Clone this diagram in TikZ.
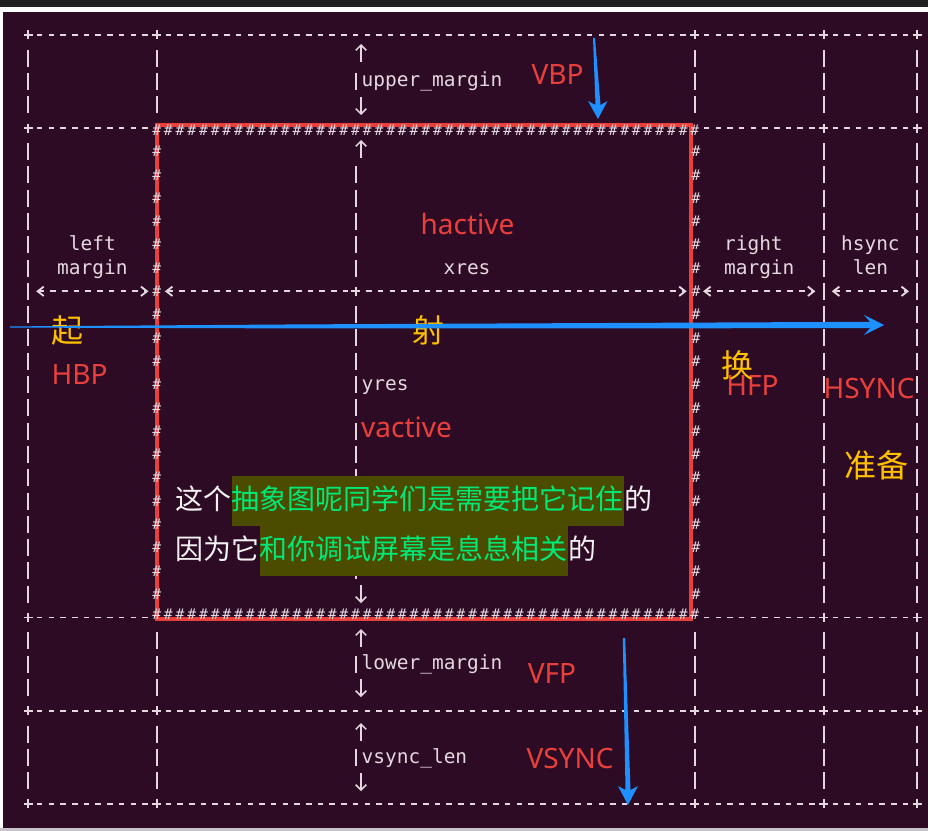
\documentclass[tikz,border=0pt]{standalone}
\usepackage{fontspec}
\setmainfont{Noto Sans}
\newfontfamily\asciifont{DejaVu Sans Mono}
\newfontfamily\cjkfont{Noto Sans CJK SC}
\usetikzlibrary{arrows.meta,positioning,calc}

\definecolor{termbg}{RGB}{46,11,36}
\definecolor{topbar}{RGB}{32,32,32}
\definecolor{edgegray}{RGB}{200,195,200}
\definecolor{asciiw}{RGB}{228,216,224}
\definecolor{markred}{RGB}{234,64,60}
\definecolor{shotblue}{RGB}{30,144,255}
\definecolor{noteyellow}{RGB}{255,192,0}
\definecolor{notewhite}{RGB}{242,242,242}
\definecolor{hlgreen}{RGB}{0,232,120}
\definecolor{hlolive}{RGB}{76,76,0}

\begin{document}
\begin{tikzpicture}[x=0.75pt,y=-0.75pt,
    grid/.style={draw=asciiw,line width=1.4pt},
    hbar/.style={grid,dash pattern=on 4.1pt off 4.675pt},
    vbar/.style={grid,dash pattern=on 12.75pt off 4.725pt},
    harrow/.style={hbar,{Straight Barb[length=4.5pt,width=7pt]}-{Straight Barb[length=4.5pt,width=7pt]}},
    hashmark/.style={text=asciiw,font=\asciifont\fontsize{11}{11}\selectfont,inner sep=0pt},
    asciitxt/.style={text=asciiw,font=\asciifont\fontsize{14.6}{16}\selectfont,inner sep=0pt},
    redlbl/.style={text=markred,font=\fontsize{21}{24}\selectfont,inner sep=0pt,anchor=base},
    yellowlbl/.style={text=noteyellow,font=\cjkfont\fontsize{24}{26}\selectfont,inner sep=0pt},
    noteline/.style={text=notewhite,font=\cjkfont\fontsize{21}{24}\selectfont,inner xsep=0pt,
      inner ysep=0pt,text height=17pt,text depth=4pt,minimum height=37.5pt},
    notehl/.style={noteline,fill=hlolive,text=hlgreen},
    shot/.style={fill=shotblue},
    crossmark/.pic={\draw[grid] (-4.5,0) -- (4.5,0) (0,-4.5) -- (0,4.5);},
    uptick/.pic={\draw[grid,line width=1.1pt,-{Straight Barb[length=4pt,width=8pt]}] (0,9) -- (0,-9);},
    downtick/.pic={\draw[grid,line width=1.1pt,-{Straight Barb[length=4pt,width=8pt]}] (0,-9) -- (0,9);}
  ]

  \useasboundingbox (0,0) rectangle (928,831);
  % screen
  \fill[white] (0,0) rectangle (928,831);
  \fill[topbar] (0,0) rectangle (928,7);
  \fill[termbg] (3,12) rectangle (928,828);
  \fill[edgegray] (0,828) rectangle (928,831);

  % ascii frame: one column = 11.7, one row = 23.3
  \foreach \r in {0,29,33}
    \draw[hbar] (36.95,{35+23.3*\r}) -- (908.25,{35+23.3*\r});
  \foreach \r in {4,25} {
    \draw[hbar] (36.95,{35+23.3*\r}) -- (147.75,{35+23.3*\r});
    \draw[hbar] (703.85,{35+23.3*\r}) -- (908.25,{35+23.3*\r});
  }
  \foreach \c/\ra/\rb in {0/1/3,0/5/24,0/26/28,0/30/32,
      11/1/3,11/26/28,11/30/32,
      28/2/2,28/6/10,28/12/23,28/27/27,28/31/31,
      57/1/3,57/26/28,57/30/32,
      68/1/3,68/5/24,68/26/28,68/30/32,
      76/1/3,76/5/24,76/26/28,76/30/32}
    \draw[vbar] ({28+11.7*\c},{35+23.3*\ra-8.5}) -- ({28+11.7*\c},{35+23.3*\rb+8.5});
  \foreach \c/\r in {0/0,11/0,57/0,68/0,76/0,0/4,68/4,76/4,0/25,68/25,76/25,
      0/29,11/29,57/29,68/29,76/29,0/33,11/33,57/33,68/33,76/33,28/11}
    \pic at ({28+11.7*\c},{35+23.3*\r}) {crossmark};

  % length arrows
  \coordinate (lm-l) at (36.2,291.3);
  \coordinate (lm-r) at (148.5,291.3);
  \coordinate (xr-l) at (164.9,291.3);
  \coordinate (xr-r) at (686.7,291.3);
  \coordinate (rm-l) at (703.1,291.3);
  \coordinate (rm-r) at (815.4,291.3);
  \coordinate (hs-l) at (831.8,291.3);
  \coordinate (hs-r) at (909,291.3);
  \draw[harrow] (lm-l) -- (lm-r);
  \draw[harrow] (xr-l) -- (xr-r);
  \draw[harrow] (rm-l) -- (rm-r);
  \draw[harrow] (hs-l) -- (hs-r);
  \pic at (355.6,291.3) {crossmark};

  % up and down ticks of the middle column
  \foreach \yu/\yd in {53/106,149/594,638/688,732/782} {
    \pic at (361,\yu) {uptick};
    \pic at (361,\yd) {downtick};
  }

  % visible area
  \draw[markred,line width=3pt] (157,125) rectangle (691,619);
  \foreach \c in {11,...,57} {
    \node[hashmark] (hash-top-\c) at ({28+11.7*\c},130) {\#};
    \node[hashmark] (hash-bot-\c) at ({28+11.7*\c},614) {\#};
  }
  \foreach \r in {5,...,24} {
    \node[hashmark] (hash-l-\r) at (156.7,{35+23.3*\r}) {\#};
    \node[hashmark] (hash-r-\r) at (696,{35+23.3*\r}) {\#};
  }

  % ascii texts
  \node[asciitxt,anchor=base west] (upper) at (361.45,87) {upper\_margin};
  \node[asciitxt,anchor=base] (left1) at (92.35,250.5) {left};
  \node[asciitxt,anchor=base] (left2) at (92.35,274) {margin};
  \node[asciitxt,anchor=base] (xres) at (467,274) {xres};
  \node[asciitxt,anchor=base] (right1) at (753.4,250.5) {right};
  \node[asciitxt,anchor=base] (right2) at (759.25,274) {margin};
  \node[asciitxt,anchor=base] (hsync1) at (870.4,250.5) {hsync};
  \node[asciitxt,anchor=base] (hsync2) at (870.4,274) {len};
  \node[asciitxt,anchor=base west] (yres) at (361.45,390) {yres};
  \node[asciitxt,anchor=base west] (lower) at (361.45,669.5) {lower\_margin};
  \node[asciitxt,anchor=base west] (vsync) at (361.45,763) {vsync\_len};

  % red notes
  \node[redlbl] (vbp) at (557.5,85) {VBP};
  \node[redlbl] (hactive) at (467.5,234) {hactive};
  \node[redlbl] (hbp) at (79.5,384) {HBP};
  \node[redlbl] (vactive) at (406.5,437) {vactive};
  \node[redlbl] (hfp) at (752.5,395) {HFP};
  \node[redlbl] (hsyncr) at (869,398) {HSYNC};
  \node[redlbl] (vfp) at (552,683) {VFP};
  \node[redlbl] (vsyncr) at (570,768) {VSYNC};

  % yellow notes
  \node[yellowlbl] (qi) at (67,330) {起};
  \node[yellowlbl] (she) at (428,330) {射};
  \node[yellowlbl] (huan) at (737,365) {换};
  \node[yellowlbl] (zhunbei) at (876,465) {准备};

  % subtitle
  \node[noteline,anchor=west] (note1a) at (175,501) {这个};
  \node[notehl,right=0pt of note1a] (note1b) {抽象图呢同学们是需要把它记住};
  \node[noteline,right=0pt of note1b] (note1c) {的};
  \node[noteline,anchor=west] (note2a) at (175,551) {因为它};
  \node[notehl,right=0pt of note2a] (note2b) {和你调试屏幕是息息相关};
  \node[noteline,right=0pt of note2b] (note2c) {的};

  % blue strokes
  \coordinate (scan-s) at (10,327);
  \coordinate (scan-m) at (300,326.4);
  \coordinate (scan-e) at (884,325);
  \fill[shot] ($(scan-s)+(0,-0.6)$) -- ($(scan-m)+(0,-2)$) -- ($(scan-e)+(-14,-3.2)$)
    -- ($(scan-e)+(-20,-10)$) -- (scan-e) -- ($(scan-e)+(-20,10)$) -- ($(scan-e)+(-14,3.2)$)
    -- ($(scan-m)+(0,2)$) -- ($(scan-s)+(0,0.6)$) -- cycle;
  \coordinate (vbp-s) at (594,38);
  \coordinate (vbp-e) at (598,119);
  \fill[shot] ($(vbp-s)+(-1,0)$) -- ($(vbp-e)+(-2.5,-14)$) -- ($(vbp-e)+(-10,-18)$) -- (vbp-e)
    -- ($(vbp-e)+(9.5,-18)$) -- ($(vbp-e)+(2.5,-14)$) -- ($(vbp-s)+(1,0)$) -- cycle;
  \coordinate (vs-s) at (624,638);
  \coordinate (vs-e) at (628,805);
  \fill[shot] ($(vs-s)+(-1.2,0)$) -- ($(vs-e)+(-2.5,-15)$) -- ($(vs-e)+(-10,-19)$) -- (vs-e)
    -- ($(vs-e)+(10,-19)$) -- ($(vs-e)+(2.5,-15)$) -- ($(vs-s)+(1.2,0)$) -- cycle;

\end{tikzpicture}
\end{document}
